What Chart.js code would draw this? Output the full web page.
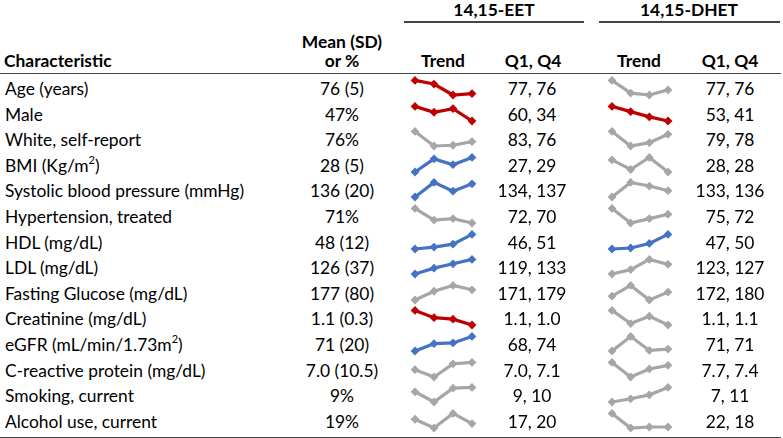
<!DOCTYPE html>
<html>
<head>
<meta charset="utf-8">
<script src="https://cdn.jsdelivr.net/npm/chart.js@4"></script>
<style>
  html, body { margin:0; padding:0; background:#fff; }
  body { width:783px; height:438px; position:relative; overflow:hidden;
         font-family: Lato, "Open Sans", sans-serif; font-size:17.4px; color:#000; }
  .t { position:absolute; white-space:nowrap; }
  .c { transform:translateX(-50%); text-align:center; }
  .b { font-weight:bold; }
  .ln { position:absolute; background:#444; height:1.6px; }
  canvas { position:absolute; }
  sup { font-size:11px; line-height:0; vertical-align:8px; }
</style>
</head>
<body>
<script>
const characteristics = [
  "Age (years)", "Male", "White, self-report", "BMI (Kg/m<sup>2</sup>)",
  "Systolic blood pressure (mmHg)", "Hypertension, treated", "HDL (mg/dL)",
  "LDL (mg/dL)", "Fasting Glucose (mg/dL)", "Creatinine (mg/dL)",
  "eGFR (mL/min/1.73m<sup>2</sup>)", "C-reactive protein (mg/dL)",
  "Smoking, current", "Alcohol use, current"
];
const meanSD = ["76 (5)", "47%", "76%", "28 (5)", "136 (20)", "71%", "48 (12)",
  "126 (37)", "177 (80)", "1.1 (0.3)", "71 (20)", "7.0 (10.5)", "9%", "19%"];
const eetQ1Q4 = ["77, 76", "60, 34", "83, 76", "27, 29", "134, 137", "72, 70", "46, 51",
  "119, 133", "171, 179", "1.1, 1.0", "68, 74", "7.0, 7.1", "9, 10", "17, 20"];
const dhetQ1Q4 = ["77, 76", "53, 41", "79, 78", "28, 28", "133, 136", "75, 72", "47, 50",
  "123, 127", "172, 180", "1.1, 1.1", "71, 71", "7.7, 7.4", "7, 11", "22, 18"];
const quartiles = ["Q1", "Q2", "Q3", "Q4"];

// Sparkline levels (relative)
const eetTrend = [
  [10, 7.5, 0, 1], [10, 6, 8.5, 0], [10, 0, 0.5, 3], [0, 9, 5, 10],
  [0, 10, 4, 9], [10, 2, 3, 0], [0, 1.3, 3.3, 10], [0, 4, 7, 10],
  [0, 6, 10, 7], [10, 5, 4, 0], [0, 5, 5.5, 10], [5, 0, 9, 10],
  [7, 0, 9.5, 10], [6, 0, 10, 3]
];
const dhetTrend = [
  [10, 1.3, 0, 3.5], [10, 6.4, 2.8, 0], [10, 0, 2.3, 8], [8.3, 1.7, 10, 0],
  [0, 10, 7.5, 4.3], [10, 0, 3, 6], [0, 0.7, 3.8, 10], [0, 3, 10, 6.6],
  [2.6, 10, 0, 5.4], [10, 1, 6, 0], [0, 10, 0.4, 1.3], [10, 0, 5.5, 8],
  [0, 2.2, 4.9, 10], [10, 0, 0.7, 0.7]
];
const eetDirection  = ["down","down","none","up","up","none","up","up","none","down","up","none","none","none"];
const dhetDirection = ["none","down","none","none","none","none","up","none","none","none","none","none","none","none"];
const directionColors = { down: "#C00000", up: "#4472C4", none: "#A6A6A6" };

const ROW0 = 76, ROWH = 25.6;

function addText(html, x, y, cls, lh) {
  const d = document.createElement('div');
  d.className = 't ' + (cls || '');
  d.innerHTML = html;
  d.style.left = x + 'px';
  d.style.top = y + 'px';
  d.style.lineHeight = (lh || ROWH) + 'px';
  document.body.appendChild(d);
}
function addLine(x, y, w) {
  const d = document.createElement('div');
  d.className = 'ln';
  d.style.left = x + 'px'; d.style.top = y + 'px'; d.style.width = w + 'px';
  document.body.appendChild(d);
}

// Header
addText("14,15-EET", 494, -3, 'c b');
addText("14,15-DHET", 689, -3, 'c b');
addLine(404, 21, 180);
addLine(599, 21, 181);
addText("Mean (SD)", 342, 29, 'c b');
addText("Characteristic", 4, 48, 'b');
addText("or %", 342, 48, 'c b');
addText("Trend", 443, 48, 'c b');
addText("Q1, Q4", 533, 48, 'c b');
addText("Trend", 639, 48, 'c b');
addText("Q1, Q4", 730, 48, 'c b');
addLine(0, 72.5, 781);
addLine(0, 436.5, 781);

function spark(left, top, values, color, padL, padR) {
  const cv = document.createElement('canvas');
  cv.width = 80; cv.height = Math.round(ROWH);
  cv.style.left = left + 'px'; cv.style.top = top + 'px';
  document.body.appendChild(cv);
  new Chart(cv, {
    type: 'line',
    data: { labels: quartiles, datasets: [{
      data: values, borderColor: color, backgroundColor: color,
      borderWidth: 3.2, pointStyle: 'rectRot', pointRadius: 4.4,
      pointBorderWidth: 0, tension: 0, clip: false
    }]},
    options: {
      responsive: false, animation: false, events: [],
      layout: { padding: { left: padL, right: padR, top: 3, bottom: 7 } },
      plugins: { legend: { display: false }, tooltip: { enabled: false } },
      scales: {
        x: { display: false, offset: false },
        y: { display: false, bounds: 'data' }
      }
    }
  });
}

characteristics.forEach((name, i) => {
  const top = ROW0 + i * ROWH;
  addText(name, 5, top);
  addText(meanSD[i], 342, top, 'c');
  addText(eetQ1Q4[i], 532, top, 'c');
  addText(dhetQ1Q4[i], 730, top, 'c');
  spark(405, top, eetTrend[i], directionColors[eetDirection[i]], 10, 13);
  spark(600, top, dhetTrend[i], directionColors[dhetDirection[i]], 12, 12);
});
</script>
</body>
</html>
